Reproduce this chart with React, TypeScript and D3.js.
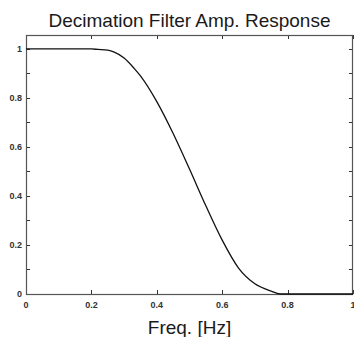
import React, { useEffect, useRef } from "react";
import * as d3 from "d3";

// amplitude response
const freq = [0, 0.05, 0.1, 0.15, 0.2, 0.22, 0.25, 0.27, 0.3, 0.33, 0.35, 0.4, 0.45, 0.5, 0.55, 0.6, 0.65, 0.7, 0.75, 0.78, 0.85, 0.9, 0.95, 1];
const amp = [1, 1, 1, 1, 1, 0.998, 0.995, 0.987, 0.963, 0.922, 0.89, 0.785, 0.655, 0.51, 0.36, 0.22, 0.106, 0.042, 0.012, 0, 0, 0, 0, 0];

const xTicks = [0, 0.2, 0.4, 0.6, 0.8, 1];
const yTicks = [0, 0.1, 0.2, 0.3, 0.4, 0.5, 0.6, 0.7, 0.8, 0.9, 1];
const yLabels = [0, 0.2, 0.4, 0.6, 0.8, 1];

const title = "Decimation Filter Amp. Response";
const xTitle = "Freq. [Hz]";

const App = () => {
  const ref = useRef<SVGSVGElement>(null);

  useEffect(() => {
    const svg = d3.select(ref.current);
    svg.selectAll("*").remove();

    const width = 354;
    const height = 337;
    const left = 26;
    const right = 353;
    const top = 35;
    const bottom = 294;

    const x = d3.scaleLinear().domain([0, 1]).range([left, right]);
    const y = d3.scaleLinear().domain([0, 1.057]).range([bottom, top]);

    svg.append("rect").attr("width", width).attr("height", height).attr("fill", "#fff");

    const fmt = (d: number) => (d === 0 ? "0" : d === 1 ? "1" : String(d));

    // ticks, inward
    const tk = 4;
    const g = svg.append("g").attr("stroke", "#333").attr("stroke-width", 1);
    yTicks.forEach((t) => {
      const yy = Math.round(y(t)) + 0.5;
      g.append("line").attr("x1", left).attr("x2", left + tk).attr("y1", yy).attr("y2", yy);
      g.append("line").attr("x1", right - tk).attr("x2", right).attr("y1", yy).attr("y2", yy);
    });
    xTicks.forEach((t) => {
      const xx = Math.round(x(t)) + 0.5;
      g.append("line").attr("x1", xx).attr("x2", xx).attr("y1", bottom).attr("y2", bottom - tk);
      g.append("line").attr("x1", xx).attr("x2", xx).attr("y1", top).attr("y2", top + tk);
    });

    // frame
    svg
      .append("rect")
      .attr("x", left + 0.5)
      .attr("y", top + 0.5)
      .attr("width", right - left - 1)
      .attr("height", bottom - top)
      .attr("fill", "none")
      .attr("stroke", "#555")
      .attr("stroke-width", 1.2);

    const labelStyle = (s: d3.Selection<SVGTextElement, unknown, null, undefined>) =>
      s
        .attr("font-family", "Liberation Sans, Arial, sans-serif")
        .attr("font-size", 9)
        .attr("font-weight", "bold")
        .attr("fill", "#333");

    yLabels.forEach((t) => {
      svg
        .append("text")
        .attr("x", left - 4)
        .attr("y", y(t) + 3)
        .attr("text-anchor", "end")
        .text(fmt(t))
        .call(labelStyle);
    });
    xTicks.forEach((t) => {
      svg
        .append("text")
        .attr("x", x(t))
        .attr("y", bottom + 14)
        .attr("text-anchor", "middle")
        .text(fmt(t))
        .call(labelStyle);
    });

    // curve
    const pts = freq.map((f, i) => [f, amp[i]] as [number, number]);
    svg
      .append("path")
      .datum(pts)
      .attr("fill", "none")
      .attr("stroke", "#111")
      .attr("stroke-width", 1.3)
      .attr(
        "d",
        d3
          .line<[number, number]>()
          .x((d) => x(d[0]))
          .y((d) => y(d[1]))
          .curve(d3.curveMonotoneX)
      );

    svg
      .append("text")
      .attr("x", (left + right) / 2)
      .attr("y", 27)
      .attr("text-anchor", "middle")
      .attr("font-family", "Liberation Sans, Arial, sans-serif")
      .attr("font-size", 19)
      .attr("fill", "#1a1a1a")
      .text(title);

    svg
      .append("text")
      .attr("x", (left + right) / 2)
      .attr("y", 334)
      .attr("text-anchor", "middle")
      .attr("font-family", "Liberation Sans, Arial, sans-serif")
      .attr("font-size", 19)
      .attr("fill", "#1a1a1a")
      .text(xTitle);
  });

  return (
    <div style={{ position: "absolute", left: 0, top: 0 }}>
      <svg ref={ref} width={354} height={337} style={{ display: "block" }} />
    </div>
  );
};

export default App;
